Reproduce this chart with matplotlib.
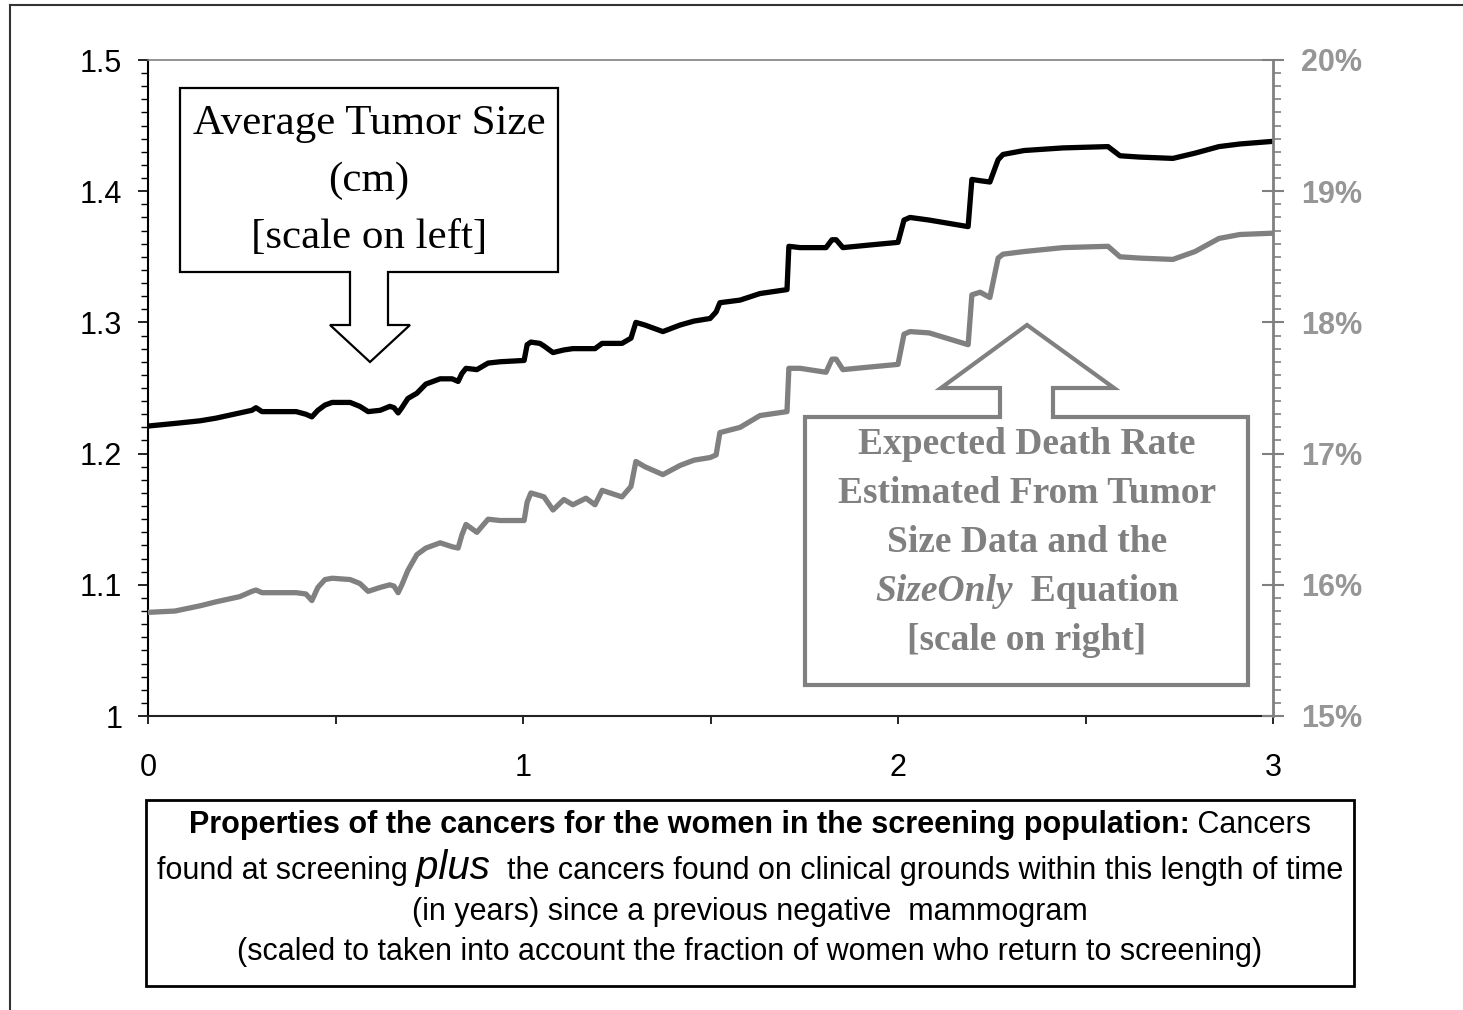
import matplotlib
matplotlib.use('Agg')
import matplotlib.pyplot as plt
from matplotlib.patches import Polygon, Rectangle
from matplotlib.lines import Line2D
from matplotlib.ticker import MultipleLocator

W, H = 1463, 1010

# years since a previous negative mammogram
years = [0.000, 0.072, 0.139, 0.181, 0.245, 0.277, 0.288, 0.304, 0.395, 0.421,
         0.437, 0.453, 0.472, 0.491, 0.539, 0.565, 0.587, 0.619, 0.645, 0.656,
         0.667, 0.677, 0.693, 0.717, 0.741, 0.779, 0.811, 0.827, 0.837, 0.848,
         0.877, 0.907, 0.939, 1.003, 1.011, 1.021, 1.045, 1.056, 1.080, 1.109,
         1.133, 1.168, 1.192, 1.211, 1.264, 1.288, 1.301, 1.325, 1.373, 1.419,
         1.456, 1.499, 1.515, 1.525, 1.579, 1.632, 1.704, 1.709, 1.739, 1.808,
         1.824, 1.835, 1.853, 1.925, 2.000, 2.016, 2.032, 2.083, 2.187, 2.197,
         2.219, 2.245, 2.267, 2.280, 2.336, 2.440, 2.560, 2.592, 2.645, 2.733,
         2.792, 2.856, 2.912, 3.000]

# average tumor size (cm), left scale
size_cm = [1.221, 1.223, 1.225, 1.227, 1.231, 1.233, 1.235, 1.232, 1.232, 1.230,
           1.228, 1.233, 1.237, 1.239, 1.239, 1.236, 1.232, 1.233, 1.236, 1.235,
           1.231, 1.235, 1.242, 1.246, 1.253, 1.257, 1.257, 1.255, 1.261, 1.265,
           1.264, 1.269, 1.270, 1.271, 1.283, 1.285, 1.284, 1.282, 1.277, 1.279,
           1.280, 1.280, 1.280, 1.284, 1.284, 1.288, 1.300, 1.298, 1.293, 1.298,
           1.301, 1.303, 1.308, 1.315, 1.317, 1.322, 1.325, 1.358, 1.357, 1.357,
           1.363, 1.363, 1.357, 1.359, 1.361, 1.378, 1.380, 1.378, 1.373, 1.409,
           1.408, 1.407, 1.424, 1.428, 1.431, 1.433, 1.434, 1.427, 1.426, 1.425,
           1.429, 1.434, 1.436, 1.438]

# expected death rate (%), right scale
death_pct = [15.79, 15.80, 15.84, 15.87, 15.91, 15.95, 15.96, 15.94, 15.94, 15.93,
             15.88, 15.98, 16.04, 16.05, 16.04, 16.01, 15.95, 15.98, 16.00, 15.99,
             15.94, 16.00, 16.11, 16.23, 16.28, 16.32, 16.29, 16.28, 16.38, 16.46,
             16.40, 16.50, 16.49, 16.49, 16.63, 16.70, 16.68, 16.67, 16.57, 16.65,
             16.61, 16.66, 16.61, 16.72, 16.67, 16.75, 16.94, 16.90, 16.84, 16.91,
             16.95, 16.97, 16.99, 17.16, 17.20, 17.29, 17.32, 17.65, 17.65, 17.62,
             17.72, 17.72, 17.64, 17.66, 17.68, 17.91, 17.93, 17.92, 17.83, 18.21,
             18.23, 18.19, 18.49, 18.52, 18.54, 18.57, 18.58, 18.50, 18.49, 18.48,
             18.54, 18.64, 18.67, 18.68]

left_ticks = [1.0, 1.1, 1.2, 1.3, 1.4, 1.5]
left_labels = ['1', '1.1', '1.2', '1.3', '1.4', '1.5']
right_ticks = [15, 16, 17, 18, 19, 20]
right_labels = ['15%', '16%', '17%', '18%', '19%', '20%']
x_ticks = [0, 1, 2, 3]
x_labels = ['0', '1', '2', '3']

SANS = 'Liberation Sans'
SERIF = 'Liberation Serif'
GRAY = '#808080'

plt.rcParams['font.family'] = SANS

fig = plt.figure(figsize=(W / 100, H / 100), dpi=100)
ax = fig.add_axes([148 / W, 1 - 716 / H, (1273 - 148) / W, (716 - 60) / H])
ax2 = ax.twinx()

ax.plot(years, size_cm, color='black', lw=3.8, solid_joinstyle='round', solid_capstyle='butt')
ax2.plot(years, death_pct, color=GRAY, lw=3.8, solid_joinstyle='round', solid_capstyle='butt')

ax.set_xlim(0, 3)
ax.set_ylim(1.0, 1.5)
ax2.set_ylim(15, 20)

ax.set_yticks(left_ticks, left_labels)
ax.yaxis.set_minor_locator(MultipleLocator(0.01))
ax.tick_params(axis='y', which='major', direction='out', length=7.5, width=1.2, pad=11, labelsize=22)
ax.tick_params(axis='y', which='minor', direction='out', length=5, width=1.0)
ax.set_xticks(x_ticks, x_labels)
ax.xaxis.set_minor_locator(MultipleLocator(0.5))
ax.tick_params(axis='x', which='major', direction='out', length=6, width=1.2, pad=21, labelsize=22)
ax.tick_params(axis='x', which='minor', direction='out', length=6, width=1.2)

ax2.set_yticks(right_ticks, right_labels)
ax2.yaxis.set_minor_locator(MultipleLocator(0.1))
ax2.tick_params(axis='y', which='major', direction='inout', length=16, width=1.5, color=GRAY,
                pad=12, labelsize=22, labelcolor='#969696')
ax2.tick_params(axis='y', which='minor', direction='out', length=5.5, width=1.2, color=GRAY)
for lbl in ax2.get_yticklabels():
    lbl.set_fontweight('bold')

for s in ['left', 'top', 'bottom']:
    ax2.spines[s].set_visible(False)
ax2.spines['right'].set_color(GRAY)
ax2.spines['right'].set_linewidth(2)
ax.spines['right'].set_visible(False)
ax.spines['top'].set_color(GRAY)
ax.spines['top'].set_linewidth(1.2)
ax.spines['left'].set_linewidth(1.5)
ax.spines['bottom'].set_color('#222222')
ax.spines['bottom'].set_linewidth(1.5)


def fpt(x, y):
    # pixel position (top-left origin) -> figure fraction
    return (x / W, 1 - y / H)


# outer frame (only top and left edges are visible in the original)
fig.add_artist(Line2D([10 / W, 1.0], [1 - 5 / H, 1 - 5 / H], color='#333333', lw=1.5))
fig.add_artist(Line2D([10 / W, 10 / W], [1 - 5 / H, 0.0], color='#333333', lw=1.5))

# callout for the tumor size line (arrow pointing down)
black_call = [(180, 88), (558, 88), (558, 272), (388, 272), (388, 325), (410, 325),
              (370, 362), (330, 325), (350, 325), (350, 272), (180, 272)]
fig.add_artist(Polygon([fpt(*p) for p in black_call], closed=True, fc='white',
                       ec='black', lw=1.6, transform=fig.transFigure))

# callout for the death rate line (arrow pointing up)
gray_call = [(805, 417), (1000, 417), (1000, 388), (941, 388), (1027, 325), (1114, 388),
             (1053, 388), (1053, 417), (1248, 417), (1248, 685), (805, 685)]
fig.add_artist(Polygon([fpt(*p) for p in gray_call], closed=True, fc='white',
                       ec=GRAY, lw=3.0, transform=fig.transFigure))

# caption box
x0, y0 = fpt(146, 986)
x1, y1 = fpt(1354, 800)
fig.add_artist(Rectangle((x0, y0), x1 - x0, y1 - y0, fc='white', ec='black', lw=2.0,
                         transform=fig.transFigure))

renderer = fig.canvas.get_renderer()


def rich_line(pieces, xc, yb):
    # draw text pieces one after another, centred on xc, baseline at yb (pixels)
    objs = [fig.text(0, 1 - yb / H, s, ha='left', va='baseline', **kw) for s, kw in pieces]
    widths = [o.get_window_extent(renderer).width for o in objs]
    x = xc - sum(widths) / 2
    for o, w in zip(objs, widths):
        o.set_x(x / W)
        x += w


serif_b = dict(family=SERIF, size=31, color='black')
rich_line([('Average Tumor Size', serif_b)], 369, 134)
rich_line([('(cm)', serif_b)], 369, 191)
rich_line([('[scale on left]', serif_b)], 369, 248)

gk = dict(family=SERIF, size=27, color=GRAY, weight='bold')
gki = dict(family=SERIF, size=27, color=GRAY, weight='bold', style='italic')
rich_line([('Expected Death Rate', gk)], 1027, 454)
rich_line([('Estimated From Tumor', gk)], 1027, 503)
rich_line([('Size Data and the', gk)], 1027, 552)
rich_line([('SizeOnly', gki), ('  Equation', gk)], 1027, 601)
rich_line([('[scale on right]', gk)], 1027, 650)

cap = dict(family=SANS, size=22, color='black')
cap_b = dict(family=SANS, size=22, color='black', weight='bold')
cap_i = dict(family=SANS, size=29, color='black', style='italic')
rich_line([('Properties of the cancers for the women in the screening population:', cap_b),
           (' Cancers', cap)], 750, 833)
rich_line([('found at screening ', cap), ('plus', cap_i),
           ('  the cancers found on clinical grounds within this length of time', cap)], 750, 879)
rich_line([('(in years) since a previous negative  mammogram', cap)], 750, 920)
rich_line([('(scaled to taken into account the fraction of women who return to screening)', cap)],
          750, 960)

fig.savefig('out.png', dpi=100, facecolor='white')
